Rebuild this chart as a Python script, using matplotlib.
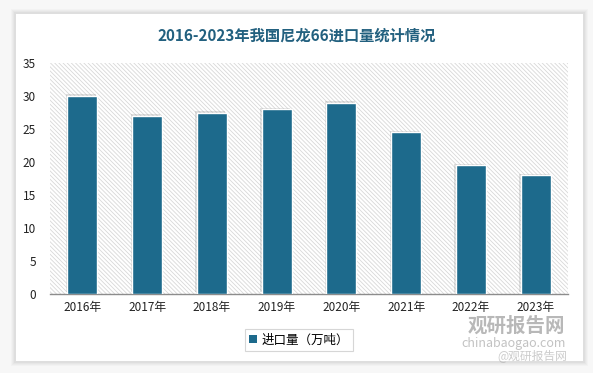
import matplotlib

matplotlib.use("Agg")
import matplotlib.pyplot as plt  # noqa: E402
from matplotlib.patches import Rectangle  # noqa: E402
from matplotlib import patheffects as pe  # noqa: E402

years = ["2016年", "2017年", "2018年", "2019年", "2020年", "2021年", "2022年", "2023年"]
imports = [30, 27, 27.5, 28, 29, 24.5, 19.5, 18]
yticks = [0, 5, 10, 15, 20, 25, 30, 35]

BAR = "#1d6a8c"
W, H = 593, 373

plt.rcParams["font.family"] = ["Noto Sans CJK SC", "DejaVu Sans"]
plt.rcParams["hatch.linewidth"] = 0.6

fig = plt.figure(figsize=(W / 100, H / 100), dpi=100)
fig.patch.set_facecolor("#f7f7f7")


# card with soft shadow
def px(x0, y0, x1, y1):
    return (x0 / W, 1 - y1 / H), (x1 - x0) / W, (y1 - y0) / H


for i, a in enumerate([0.04, 0.05, 0.06, 0.08]):
    d = 5 - i
    xy, w, h = px(16 - d, 14 - d, 583 + d, 361 + d)
    fig.patches.append(Rectangle(xy, w, h, transform=fig.transFigure,
                                 facecolor="#888888", alpha=a, edgecolor="none", zorder=-3))
xy, w, h = px(16, 14, 583, 361)
fig.patches.append(Rectangle(xy, w, h, transform=fig.transFigure,
                             facecolor="white", edgecolor="none", zorder=-2))

ax = fig.add_axes([50 / W, 1 - 294 / H, 518 / W, 231 / H])
ax.set_zorder(1)
ax.set_facecolor("white")
ax.add_patch(Rectangle((0, 0), 1, 1, transform=ax.transAxes, facecolor="white",
                       edgecolor="#d8d8d8", linewidth=0, hatch="\\" * 8, zorder=0))

x = range(len(years))
bars = ax.bar(x, imports, width=0.46, color=BAR, edgecolor="white", linewidth=1.0, zorder=3)
for b in bars:
    b.set_path_effects([pe.SimplePatchShadow(offset=(-1.2, 1.2), shadow_rgbFace="#888888",
                                             alpha=0.25), pe.Normal()])

ax.set_xlim(-0.5, len(years) - 0.5)
ax.set_ylim(0, 35)
ax.set_yticks(yticks)
ax.set_xticks(list(x))
ax.set_xticklabels(years)
ax.tick_params(length=0, labelsize=8.5, colors="#222222")
ax.tick_params(axis="y", pad=10)
ax.tick_params(axis="x", pad=5)
for s in ["left", "right", "top"]:
    ax.spines[s].set_visible(False)
ax.spines["bottom"].set_color("#8c8c8c")
ax.spines["bottom"].set_linewidth(1.0)

fig.text(0.5, 1 - 36 / H, "2016-2023年我国尼龙66进口量统计情况", ha="center", va="center",
         fontsize=11, fontweight="bold", color="#22607f")

leg = fig.legend([Rectangle((0, 0), 1, 1, facecolor=BAR)], ["进口量（万吨）"],
                 loc="center", bbox_to_anchor=(299 / W, 1 - 340 / H), fontsize=9,
                 frameon=True, fancybox=False, edgecolor="#cccccc",
                 handlelength=0.6, handleheight=0.6, handletextpad=0.4, borderpad=0.35)
leg.get_frame().set_linewidth(0.8)

# watermark
fig.text(516 / W, 1 - 326 / H, "观研报告网", ha="center", va="center", fontsize=14,
         fontweight="bold", color="#8a8a8a", alpha=0.6)
fig.text(514 / W, 1 - 343 / H, "chinabaogao.com", ha="center", va="center", fontsize=9,
         color="#9a9a9a", alpha=0.6)
fig.text(532 / W, 1 - 356 / H, "@观研报告网", ha="center", va="center", fontsize=8.5,
         color="#aaaaaa", alpha=0.6)

fig.savefig("out.png", dpi=100, facecolor=fig.get_facecolor())
